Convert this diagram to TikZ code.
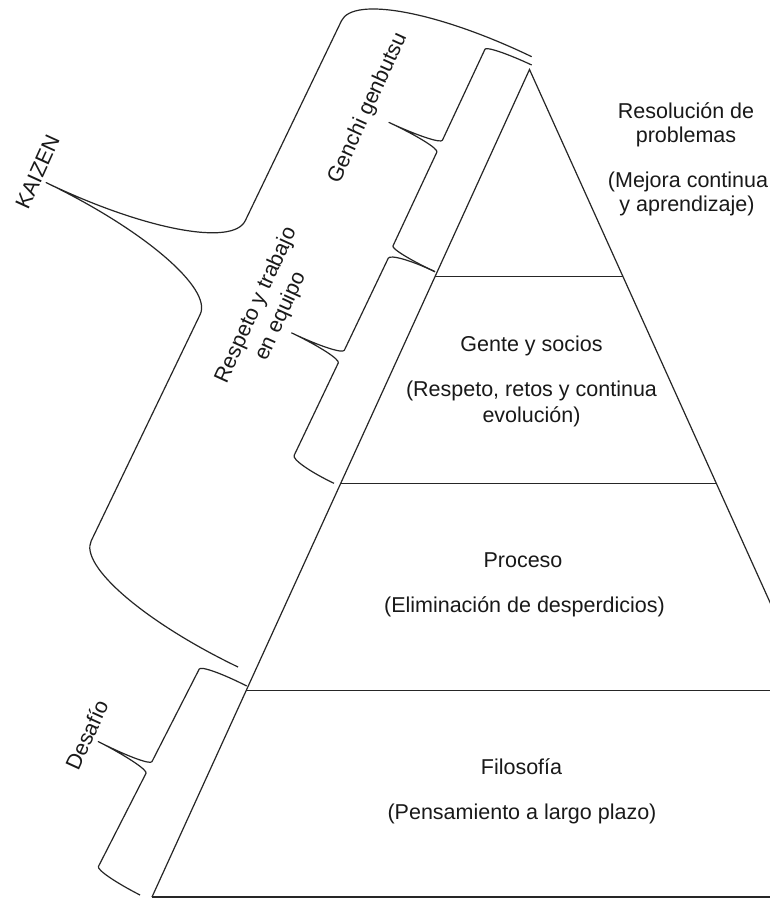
\documentclass[tikz,border=0pt]{standalone}
\usepackage{fontspec}
\setmainfont{Liberation Sans}
\usetikzlibrary{calc}

% Curly brace drawn in a local frame: x = outward, y = along the brace.
% #1 back offset, #2 end radius, #3 tip position, #4 tip depth, #5 tip radius, #6 length
\newcommand{\curlybrace}[6]{%
  \draw[bracket] (0,0)
    .. controls ({0.5523*#1},0) and (#1,{0.4477*#2}) .. (#1,#2)
    -- (#1,{#3-#5})
    .. controls (#1,{#3-0.4477*#5}) and ({#1+0.4477*#4},#3) .. ({#1+#4},#3)
    .. controls ({#1+0.4477*#4},#3) and (#1,{#3+0.4477*#5}) .. (#1,{#3+#5})
    -- (#1,{#6-#2})
    .. controls (#1,{#6-0.4477*#2}) and ({0.5523*#1},#6) .. (0,#6);}

\tikzset{
  edge/.style={line width=1.2pt, draw=black!85},
  bracket/.style={line width=1.2pt, draw=black!85, line join=round},
  lbl/.style={font=\fontsize{21.5}{25.5}\selectfont, text=black!90, inner sep=0pt},
  tilted/.style={lbl, rotate=65.5, align=center},
}

\begin{document}
\begin{tikzpicture}[x=1pt,y=-1pt]
  \useasboundingbox (0,0) rectangle (770,899);
  \fill[white] (0,0) rectangle (770,899);

  \begin{scope}
    \clip (0,0) rectangle (770,899);
    % pyramid outline
    \coordinate (apex) at (529.5,69.5);
    \coordinate (bl) at (152,897);
    \coordinate (br) at (903,897);
    \draw[edge] (bl) -- (apex) -- (br);
    % level boundaries
    \foreach \t/\nm in {0.25/a,0.5/b,0.75/c,1/d}{
      \coordinate (l\nm) at ($(apex)!\t!(bl)$);
      \coordinate (r\nm) at ($(apex)!\t!(br)$);
      \draw[edge] (l\nm) -- (r\nm);
    }
  \end{scope}

  % KAIZEN
  \begin{scope}[shift={(531.7,56.7)}, x={(-0.9011pt,0.4336pt)}, y={(-0.4336pt,-0.9011pt)}]
    \curlybrace{187}{50}{324}{196}{52}{677.3}
  \end{scope}
  % Genchi genbutsu
  \begin{scope}[shift={(531.7,65)}, x={(-0.9058pt,0.4237pt)}, y={(-0.4237pt,-0.9058pt)}]
    \curlybrace{49}{5.5}{112.5}{56}{6.5}{228.2}
  \end{scope}
  % Respeto y trabajo en equipo
  \begin{scope}[shift={(435,271.7)}, x={(-0.9024pt,0.4307pt)}, y={(-0.4307pt,-0.9024pt)}]
    \curlybrace{48}{8}{117}{55}{7}{234.5}
  \end{scope}
  % Desafío
  \begin{scope}[shift={(246.7,686)}, x={(-0.8905pt,0.4546pt)}, y={(-0.4546pt,-0.8905pt)}]
    \curlybrace{50}{6.5}{117}{57}{6.5}{234.7}
  \end{scope}

  % side labels
  \node[tilted] (kaizen) at (37.5,172) {KAIZEN};
  \node[tilted] (genchi) at (368,108) {Genchi genbutsu};
  \node[tilted, font=\fontsize{21.5}{27}\selectfont] (respeto) at (268.7,311) {Respeto y trabajo\\en equipo};
  \node[tilted] (desafio) at (86.7,735) {Desafío};

  % level texts
  \node[lbl, anchor=base] (t1a) at (686,118) {Resolución de};
  \node[lbl, anchor=base] (t1b) at (686,142) {problemas};
  \node[lbl, anchor=base] (t1c) at (688,187) {(Mejora continua};
  \node[lbl, anchor=base] (t1d) at (687,211) {y aprendizaje)};

  \node[lbl, anchor=base] (t2a) at (531.5,351) {Gente y socios};
  \node[lbl, anchor=base] (t2b) at (531.5,396.5) {(Respeto, retos y continua};
  \node[lbl, anchor=base] (t2c) at (531.5,422) {evolución)};

  \node[lbl, anchor=base] (t3a) at (523,567) {Proceso};
  \node[lbl, anchor=base] (t3b) at (524.5,612.5) {(Eliminación de desperdicios)};

  \node[lbl, anchor=base] (t4a) at (521.5,774) {Filosofía};
  \node[lbl, anchor=base] (t4b) at (522,819) {(Pensamiento a largo plazo)};
\end{tikzpicture}
\end{document}
